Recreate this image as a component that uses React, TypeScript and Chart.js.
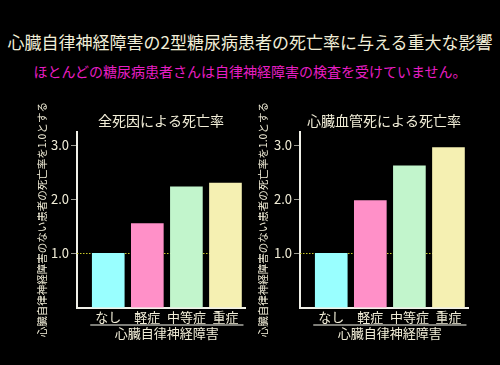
import React, { useEffect, useRef } from 'react';
import { Chart, registerables } from 'chart.js';

Chart.register(...registerables);

const MAIN_TITLE = '心臓自律神経障害の2型糖尿病患者の死亡率に与える重大な影響';
const SUBTITLE = 'ほとんどの糖尿病患者さんは自律神経障害の検査を受けていません。';
const categories = ['なし', '軽症', '中等症', '重症'];
const allCauseValues = [1.0, 1.55, 2.23, 2.3];
const cardiovascularValues = [1.0, 1.98, 2.62, 2.96];
const yTicks = [1, 2, 3];
const referenceValue = 1.0;
const xAxisTitle = '心臓自律神経障害';
const yAxisTitle = '心臓自律神経障害のない患者の死亡率を1.0とする';
const chartTitles = ['全死因による死亡率', '心臓血管死による死亡率'];
const barColors = ['#99ffff', '#ff90c8', '#c2f5cc', '#f5f0b2'];

const FONT = "'Noto Sans CJK JP', 'Noto Sans', sans-serif";
const TEXT = '#f2eed8';
const AXIS = '#f0f0e8';

const decorPlugin = {
  id: 'decor',
  beforeDatasetsDraw(chart: any) {
    const { ctx, chartArea, scales } = chart;
    const meta = chart.getDatasetMeta(0);
    const last = meta.data[meta.data.length - 1];
    const y = Math.round(scales.y.getPixelForValue(referenceValue)) + 0.5;
    ctx.save();
    ctx.strokeStyle = '#c8c828';
    ctx.lineWidth = 1;
    ctx.setLineDash([1.5, 1.5]);
    ctx.beginPath();
    ctx.moveTo(chartArea.left, y);
    ctx.lineTo(last.x, y);
    ctx.stroke();
    ctx.restore();
  },
  afterDraw(chart: any) {
    const { ctx, chartArea } = chart;
    const meta = chart.getDatasetMeta(0);
    const first = meta.data[0];
    const last = meta.data[meta.data.length - 1];
    const x0 = first.x - first.width / 2 - 2;
    const x1 = last.x + last.width / 2 + 2;
    const yLine = chartArea.bottom + 17.5;
    ctx.save();
    ctx.strokeStyle = '#a8a8a0';
    ctx.lineWidth = 1.5;
    ctx.beginPath();
    ctx.moveTo(x0, yLine);
    ctx.lineTo(x1, yLine);
    ctx.stroke();
    ctx.font = `13px ${FONT}`;
    ctx.fillStyle = TEXT;
    ctx.textAlign = 'center';
    ctx.textBaseline = 'middle';
    ctx.fillText(xAxisTitle, (x0 + x1) / 2, chartArea.bottom + 25.5);
    ctx.restore();
  },
};

type PanelProps = {
  title: string;
  values: number[];
  left: number;
  padLeft: number;
  padRight: number;
  yWidth: number;
};

function Panel({ title, values, left, padLeft, padRight, yWidth }: PanelProps) {
  const ref = useRef<HTMLCanvasElement | null>(null);
  useEffect(() => {
    if (!ref.current) return;
    const chart = new Chart(ref.current, {
      type: 'bar',
      data: {
        datasets: [
          {
            data: values.map((v, i) => ({ x: i, y: v })),
            backgroundColor: barColors,
            borderWidth: 0,
            barThickness: 32,
          },
        ],
      },
      options: {
        responsive: false,
        animation: false,
        devicePixelRatio: 1,
        layout: { padding: { left: padLeft, right: padRight, top: 4, bottom: 12.5 } },
        plugins: {
          legend: { display: false },
          tooltip: { enabled: false },
          title: {
            display: true,
            text: title,
            color: TEXT,
            fullSize: false,
            font: { size: 14, weight: 'normal', family: FONT },
            padding: { top: 8, bottom: 3 },
          },
        },
        scales: {
          x: {
            type: 'linear',
            offset: false,
            min: -0.8,
            max: 3.5,
            afterBuildTicks: (s: any) => {
              s.ticks = categories.map((_, i) => ({ value: i }));
            },
            afterFit: (s: any) => {
              s.height = 40;
            },
            ticks: {
              color: TEXT,
              font: { size: 13, family: FONT },
              padding: 2,
              autoSkip: false,
              maxRotation: 0,
              callback: (_v: any, i: number) => categories[i] ?? '',
            },
            grid: { display: false, drawTicks: false, offset: false },
            border: { display: true, color: AXIS, width: 2 },
          },
          y: {
            min: 0,
            max: 3.25,
            afterBuildTicks: (s: any) => {
              s.ticks = yTicks.map((v) => ({ value: v }));
            },
            afterFit: (s: any) => {
              s.width = yWidth;
            },
            ticks: {
              color: TEXT,
              font: { size: 13, family: FONT },
              padding: 2,
              callback: (v: any) => Number(v).toFixed(1),
            },
            grid: {
              display: true,
              drawOnChartArea: false,
              drawTicks: true,
              tickLength: 6,
              color: '#9a9a90',
              lineWidth: 1,
            },
            border: { display: true, color: AXIS, width: 2 },
            title: {
              display: true,
              text: yAxisTitle,
              color: TEXT,
              font: { size: 10.5, family: FONT },
              padding: { top: 6, bottom: 0 },
            },
          },
        },
      } as any,
      plugins: [decorPlugin],
    });
    return () => chart.destroy();
  }, [title, values, padLeft, padRight, yWidth]);
  return (
    <canvas
      ref={ref}
      width={250}
      height={260}
      style={{ position: 'absolute', left, top: 100, width: 250, height: 260 }}
    />
  );
}

export default function App() {
  return (
    <div
      style={{
        position: 'fixed',
        left: 0,
        top: 0,
        width: 500,
        height: 365,
        background: '#000',
        overflow: 'hidden',
        fontFamily: FONT,
      }}
    >
      <div
        style={{
          position: 'absolute',
          left: 0,
          top: 33,
          width: 500,
          textAlign: 'center',
          fontSize: 17,
          lineHeight: '17px',
          color: TEXT,
          whiteSpace: 'nowrap',
        }}
      >
        {MAIN_TITLE}
      </div>
      <div
        style={{
          position: 'absolute',
          left: 0,
          top: 64,
          width: 500,
          textAlign: 'center',
          fontSize: 14,
          lineHeight: '14px',
          color: '#e81ec4',
          whiteSpace: 'nowrap',
        }}
      >
        {SUBTITLE}
      </div>
      <Panel title={chartTitles[0]} values={allCauseValues} left={0} padLeft={30} padRight={5} yWidth={47} />
      <Panel title={chartTitles[1]} values={cardiovascularValues} left={250} padLeft={1} padRight={32} yWidth={49} />
    </div>
  );
}
